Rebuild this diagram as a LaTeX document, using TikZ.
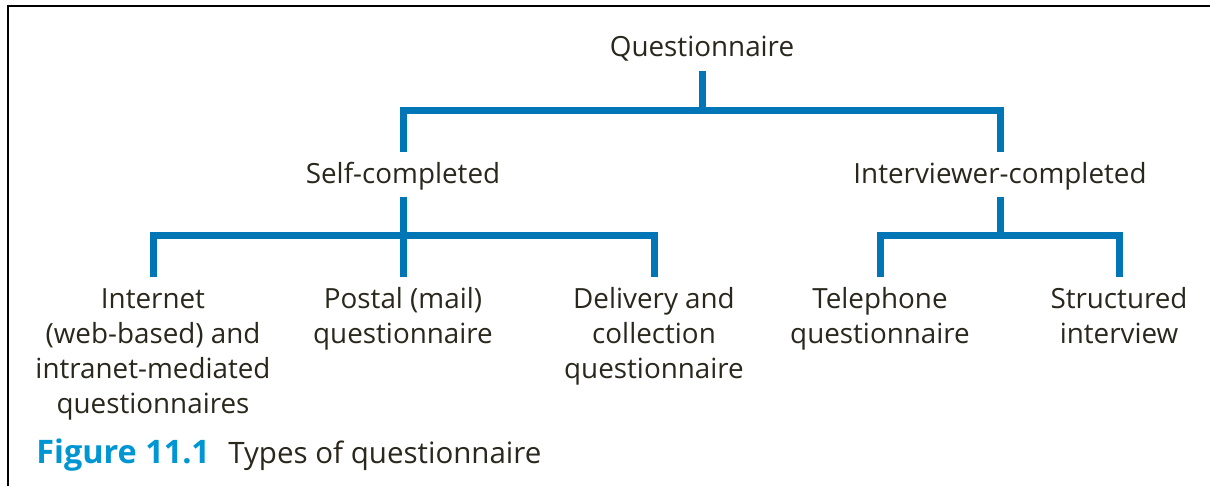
\documentclass[tikz,border=0pt]{standalone}
\usepackage{fontspec}
\setmainfont{Open Sans}
\usetikzlibrary{calc}
\definecolor{lineblue}{RGB}{0,118,182}
\definecolor{capblue}{RGB}{0,150,212}
\definecolor{txt}{RGB}{42,39,28}
\newcommand{\lines}[1]{\begin{tabular}[t]{@{}c@{}}#1\end{tabular}}
\begin{document}
\begin{tikzpicture}[x=0.5pt,y=-0.5pt,
  lbl/.style={font=\fontsize{13.9pt}{17.5pt}\selectfont, text=txt, inner sep=0pt, outer sep=0pt, anchor=base},
  conn/.style={draw=lineblue, line width=3.5pt, line join=miter},
  frame/.style={draw=black, line width=1.15pt}]
\useasboundingbox (0,0) rectangle (1210,486);
\fill[white] (0,0) rectangle (1210,486);
\draw[frame] (7.8,486) -- (7.8,6) -- (1210,6);

\coordinate (h1) at (0,111);
\coordinate (h2) at (0,236);

\node[lbl] (q)  at (702,56.7) {Questionnaire};
\node[lbl] (sc) at (403,183.3) {Self-completed};
\node[lbl] (ic) at (1000,183.3) {Interviewer-completed};

\node[lbl] (l1) at (153,308.3) {\lines{Internet\\(web-based) and\\intranet-mediated\\questionnaires}};
\node[lbl] (l2) at (403,308.3) {\lines{Postal (mail)\\questionnaire}};
\node[lbl] (l3) at (654,308.3) {\lines{Delivery and\\collection\\questionnaire}};
\node[lbl] (l4) at (880,308.3) {\lines{Telephone\\questionnaire}};
\node[lbl] (l5) at (1119,308.3) {\lines{Structured\\interview}};

% level 1
\draw[conn] ([yshift=-7.15pt]q.base) -- (q.base |- h1);
\draw[conn] ([yshift=15.65pt]sc.base) -- (sc.base |- h1) -- (ic.base |- h1) -- ([yshift=15.65pt]ic.base);

% level 2 (self-completed)
\draw[conn] ([yshift=-6.7pt]sc.base) -- ([yshift=15.8pt]l2.base);
\draw[conn] ([yshift=15.8pt]l1.base) -- (l1.base |- h2) -- (l3.base |- h2) -- ([yshift=15.8pt]l3.base);

% level 2 (interviewer-completed)
\draw[conn] ([yshift=-6.7pt]ic.base) -- (ic.base |- h2);
\draw[conn] ([yshift=15.8pt]l4.base) -- (l4.base |- h2) -- (l5.base |- h2) -- ([yshift=15.8pt]l5.base);

% caption
\node[anchor=base west, inner sep=0pt, text=capblue, font=\fontsize{16.2pt}{18pt}\selectfont\bfseries] (fig) at (36,463.5) {Figure 11.1};
\node[anchor=base west, inner sep=0pt, text=txt, font=\fontsize{14.75pt}{18pt}\selectfont] (cap) at (228,463.5) {Types of questionnaire};
\end{tikzpicture}
\end{document}
